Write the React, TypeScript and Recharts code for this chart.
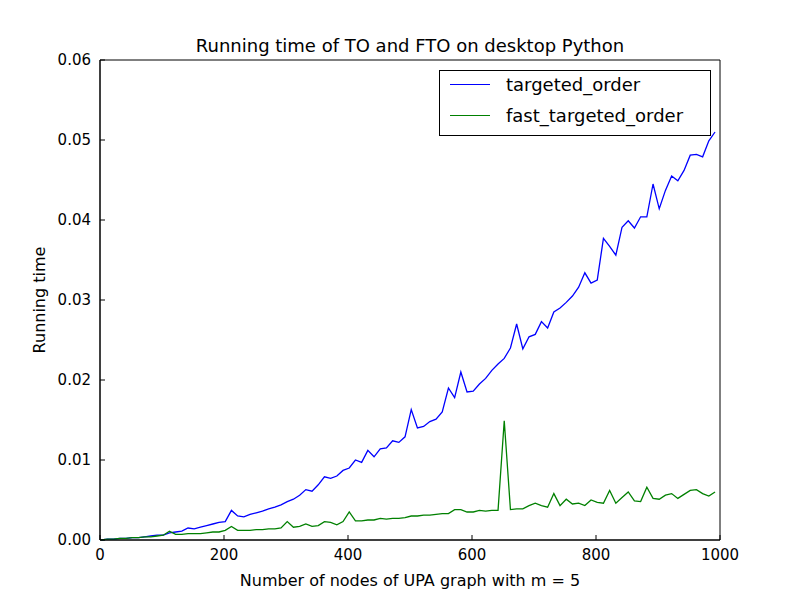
import React from "react";
import { LineChart, Line, XAxis, YAxis, ReferenceArea } from "recharts";

const nodes: number[] = Array.from({ length: 100 }, (_, i) => 2 + 10 * i);
const targetedOrder: number[] = [
  0, 0.0001, 0.0001, 0.0002, 0.0002, 0.0003, 0.0003, 0.0004, 0.0005, 0.0006,
  0.0006, 0.0009, 0.001, 0.0011, 0.0015, 0.0014, 0.0016, 0.0018, 0.002, 0.0022,
  0.0023, 0.0037, 0.003, 0.0029, 0.0032, 0.0034, 0.0036, 0.0039, 0.0041, 0.0044,
  0.0048, 0.0051, 0.0056, 0.0063, 0.0061, 0.0069, 0.0079, 0.0077, 0.008, 0.0087,
  0.009, 0.01, 0.0097, 0.0112, 0.0104, 0.0114, 0.0115, 0.0124, 0.0122, 0.0129,
  0.0163, 0.014, 0.0142, 0.0148, 0.0151, 0.016, 0.019, 0.0178, 0.021, 0.0185,
  0.0186, 0.0195, 0.0202, 0.0212, 0.022, 0.0227, 0.024, 0.027, 0.0239, 0.0254,
  0.0257, 0.0273, 0.0265, 0.0285, 0.029, 0.0297, 0.0305, 0.0316, 0.0334, 0.0321,
  0.0325, 0.0377, 0.0367, 0.0356, 0.0391, 0.0399, 0.039, 0.0404, 0.0404, 0.0445,
  0.0414, 0.0437, 0.0455, 0.0449, 0.0462, 0.0481, 0.0482, 0.0479, 0.0499, 0.051,
];
const fastTargetedOrder: number[] = [
  0, 0.0001, 0.0001, 0.0002, 0.0002, 0.0003, 0.0003, 0.0004, 0.0004, 0.0005,
  0.0006, 0.0011, 0.0007, 0.0007, 0.0008, 0.0008, 0.0008, 0.0009, 0.001, 0.001,
  0.0012, 0.0017, 0.0012, 0.0012, 0.0012, 0.0013, 0.0013, 0.0014, 0.0014, 0.0015,
  0.0023, 0.0016, 0.0017, 0.002, 0.0017, 0.0018, 0.0023, 0.0022, 0.0019, 0.0023,
  0.0035, 0.0024, 0.0024, 0.0025, 0.0025, 0.0027, 0.0026, 0.0027, 0.0027, 0.0028,
  0.003, 0.003, 0.0031, 0.0031, 0.0032, 0.0033, 0.0033, 0.0038, 0.0038, 0.0035,
  0.0035, 0.0037, 0.0036, 0.0037, 0.0037, 0.0149, 0.0038, 0.0039, 0.0039, 0.0043,
  0.0046, 0.0043, 0.0041, 0.0058, 0.0043, 0.0051, 0.0045, 0.0046, 0.0043, 0.005,
  0.0047, 0.0046, 0.0062, 0.0046, 0.0053, 0.006, 0.0049, 0.0048, 0.0066, 0.0052,
  0.0051, 0.0056, 0.0058, 0.0052, 0.0057, 0.0062, 0.0063, 0.0058, 0.0055, 0.006,
];
const xTicks = [0, 200, 400, 600, 800, 1000];
const yTicks = [0, 0.01, 0.02, 0.03, 0.04, 0.05, 0.06];

const data = nodes.map((n, i) => ({ n, to: targetedOrder[i], fto: fastTargetedOrder[i] }));
const font = "'DejaVu Sans', sans-serif";

export default function App() {
  return (
    <div style={{ position: "absolute", left: 0, top: 0, width: 800, height: 600, background: "#fff", fontFamily: font }}>
      <div style={{ position: "absolute", left: 100, width: 620, top: 35, textAlign: "center", fontSize: 18 }}>
        Running time of TO and FTO on desktop Python
      </div>
      <LineChart width={800} height={600} data={data} margin={{ top: 60, right: 80, bottom: 0, left: 0 }}>
        <XAxis dataKey="n" type="number" domain={[0, 1000]} ticks={xTicks} height={60}
          axisLine={{ stroke: "#000" }} tickLine={{ stroke: "#000" }} tickSize={-5}
          tick={{ fill: "#000", fontSize: 15, fontFamily: font, dy: 12 }}
          label={{ value: "Number of nodes of UPA graph with m = 5", position: "insideBottom", offset: 0, dy: -14, fill: "#000", fontSize: 16, fontFamily: font }} />
        <YAxis type="number" domain={[0, 0.06]} ticks={yTicks} width={100}
          tickFormatter={(v: number) => v.toFixed(2)}
          axisLine={{ stroke: "#000" }} tickLine={{ stroke: "#000" }} tickSize={-5}
          tick={{ fill: "#000", fontSize: 15, fontFamily: font, dx: -12 }}
          label={{ value: "Running time", angle: -90, position: "insideLeft", dx: 34, fill: "#000", fontSize: 16, fontFamily: font, style: { textAnchor: "middle" } }} />
        <ReferenceArea x1={0} x2={1000} y1={0} y2={0.06} fill="none" stroke="#000" strokeOpacity={1} ifOverflow="visible" />
        <Line dataKey="to" stroke="#0000ff" strokeWidth={1.3} dot={false} isAnimationActive={false} />
        <Line dataKey="fto" stroke="#008000" strokeWidth={1.3} dot={false} isAnimationActive={false} />
      </LineChart>
      <div style={{ position: "absolute", left: 439, top: 70, width: 270, height: 64, border: "1px solid #000", background: "#fff", fontSize: 18 }}>
        {[["#0000ff", "targeted_order"], ["#008000", "fast_targeted_order"]].map(([c, t], i) => (
          <div key={t} style={{ position: "absolute", top: 3 + i * 31, left: 10, display: "flex", alignItems: "center" }}>
            <div style={{ width: 40, height: 1.3, background: c, marginRight: 16 }} />
            <span>{t}</span>
          </div>
        ))}
      </div>
    </div>
  );
}
